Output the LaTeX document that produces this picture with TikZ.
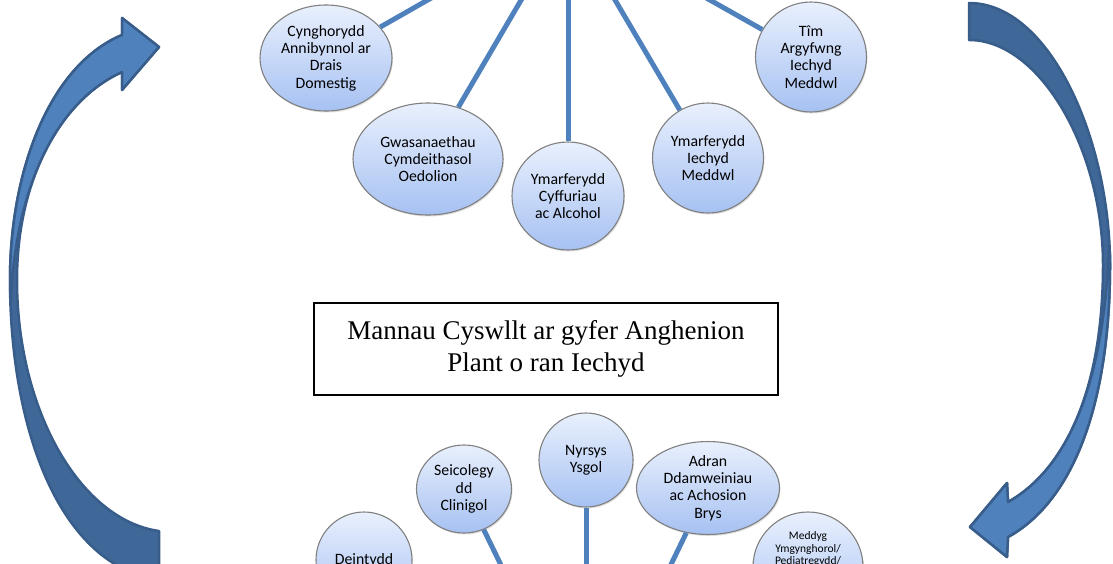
\documentclass[tikz,border=0pt]{standalone}
\usepackage{fontspec}
\newfontfamily\calfont{Carlito}
\newfontfamily\timesfont{Liberation Serif}
\usetikzlibrary{shapes.geometric,shadows}
\definecolor{linkblue}{HTML}{4F81BD}
\definecolor{arrowfront}{HTML}{4F81BD}
\definecolor{arrowback}{HTML}{3F6797}
\definecolor{arrowedge}{HTML}{385D8A}
\definecolor{bubbletop}{HTML}{E9F0FD}
\definecolor{bubblebottom}{HTML}{A6C1F2}
\begin{document}
\begin{tikzpicture}[x=1pt, y=-1pt,
    contact/.style={ellipse, draw=black!50, line width=1.1pt, top color=bubbletop, bottom color=bubblebottom,
        align=center, inner sep=0pt, font=\calfont\fontsize{15.8}{17.4}\selectfont,
        drop shadow={shadow xshift=1pt, shadow yshift=-1.5pt, opacity=.25}},
    link/.style={draw=linkblue, line width=5pt},
    bigarrow/.style={draw=arrowedge, line width=2.5pt, line join=round}]
\useasboundingbox (0,0) rectangle (1113,563);
\clip (0,0) rectangle (1113,563);

\coordinate (tophub) at (568,-80);
\coordinate (bothub) at (586,740);

\draw[bigarrow, fill=arrowback] (159,580) .. controls (60,566) and (10,430) .. (10,280) .. controls (10,170) and (50,65) .. (122,35) -- (122,18) -- (159,47) -- (122,90) -- (122,72) .. controls (60,100) and (17,180) .. (17,280) .. controls (17,410) and (80,520) .. (159,531) -- cycle;
\draw[bigarrow, fill=arrowfront] (10,290) -- (10,280) .. controls (10,170) and (50,65) .. (122,35) -- (122,18) -- (159,47) -- (122,90) -- (122,72) .. controls (60,100) and (16,180) .. (11,300) -- cycle;

\draw[bigarrow, fill=arrowback] (969,3) .. controls (1050,3) and (1110,140) .. (1110,265) .. controls (1110,400) and (1075,500) .. (1008,537) -- (1007,557) -- (970,527) -- (1007,483) -- (1008,502) .. controls (1065,470) and (1103,390) .. (1103,265) .. controls (1103,150) and (1040,40) .. (969,40) -- cycle;
\draw[bigarrow, fill=arrowfront] (1110,255) -- (1110,265) .. controls (1110,400) and (1075,500) .. (1008,537) -- (1007,557) -- (970,527) -- (1007,483) -- (1008,502) .. controls (1065,470) and (1104,390) .. (1109,245) -- cycle;

\node[contact, minimum width=132pt, minimum height=106pt] (cad) at (326,58) {Cynghorydd\\Annibynnol ar\\Drais\\Domestig};
\node[contact, minimum width=150pt, minimum height=112pt] (gco) at (428,159) {Gwasanaethau\\Cymdeithasol\\Oedolion};
\node[contact, minimum width=112pt, minimum height=108pt] (yca) at (568,196) {Ymarferydd\\Cyffuriau\\ac Alcohol};
\node[contact, minimum width=111pt, minimum height=110pt] (yim) at (708,158) {Ymarferydd\\Iechyd\\Meddwl};
\node[contact, minimum width=111pt, minimum height=110pt] (tai) at (811,57) {Tîm\\Argyfwng\\Iechyd\\Meddwl};

\draw[link] (cad) -- (tophub);
\draw[link] (gco) -- (tophub);
\draw[link] (yca) -- (tophub);
\draw[link] (yim) -- (tophub);
\draw[link] (tai) -- (tophub);

\node[draw, line width=1.2pt, minimum width=464pt, minimum height=92pt, align=center,
    font=\timesfont\fontsize{27}{31.5}\selectfont] (title) at (546,349) {Mannau Cyswllt ar gyfer Anghenion\\Plant o ran Iechyd};

\node[contact, minimum width=96pt, minimum height=96pt] (dei) at (364,560) {Deintydd};
\node[contact, minimum width=95pt, minimum height=88pt] (sec) at (464,489) {Seicolegy\\dd\\Clinigol};
\node[contact, minimum width=94pt, minimum height=94pt] (nys) at (586,460) {Nyrsys\\Ysgol};
\node[contact, minimum width=143pt, minimum height=90pt] (adr) at (708,488) {Adran\\Ddamweiniau\\ac Achosion\\Brys};
\node[contact, minimum width=110pt, minimum height=110pt, font=\calfont\fontsize{11.5}{12.5}\selectfont] (med) at (808,567) {Meddyg\\Ymgynghorol/\\Pediatregydd/\\~\\~\\~};

\draw[link] (sec) -- (bothub);
\draw[link] (nys) -- (bothub);
\draw[link] (adr) -- (bothub);
\end{tikzpicture}
\end{document}
